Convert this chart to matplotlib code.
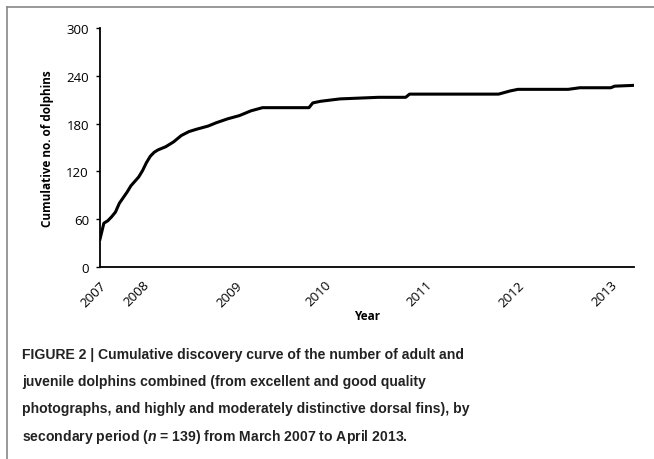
import matplotlib
matplotlib.use("Agg")
import matplotlib.pyplot as plt
from matplotlib.lines import Line2D

# secondary period index (0..138) and cumulative number of dolphins
periods = [0, 1, 2, 3, 4, 5, 7, 8, 10, 11, 12, 13, 14, 15, 17, 19, 21, 23, 25,
           28, 30, 33, 36, 39, 42, 54, 55, 57, 62, 67, 72, 79, 80, 103, 106,
           108, 121, 124, 132, 133, 138]
cumulative = [35, 55, 58, 63, 69, 80, 94, 102, 113, 121, 131, 139, 144, 147,
              151, 157, 165, 170, 173, 177, 181, 186, 190, 196, 200, 200, 206,
              208, 211, 212, 213, 213, 217, 217, 221, 223, 223, 225, 225, 227,
              228]

year_ticks = [0, 11, 35, 58, 84, 108, 132]
year_labels = ["2007", "2008", "2009", "2010", "2011", "2012", "2013"]

caption_lines = [
    "FIGURE 2 | Cumulative discovery curve of the number of adult and",
    "juvenile dolphins combined (from excellent and good quality",
    "photographs, and highly and moderately distinctive dorsal fins), by",
    "secondary period ($\\mathit{n}$ = 139) from March 2007 to April 2013.",
]
caption_y = [355, 382, 409, 437]

fig = plt.figure(figsize=(6.54, 4.60), dpi=100)
ax = fig.add_axes([100 / 654, 1 - 268 / 460, 534 / 654, 239 / 460])

ax.plot(periods, cumulative, color="black", linewidth=2.2, solid_joinstyle="round")

ax.set_xlim(0, 138)
ax.set_ylim(0, 300)
ax.set_yticks([0, 60, 120, 180, 240, 300])
ax.set_xticks(year_ticks)
ax.set_xticklabels(year_labels, rotation=45, ha="right", va="top",
                   rotation_mode="anchor", fontfamily="Open Sans", fontsize=9.5)
for lab in ax.get_yticklabels():
    lab.set_fontfamily("Open Sans")
    lab.set_fontsize(9.5)

for s in ["top", "right"]:
    ax.spines[s].set_visible(False)
for s in ["left", "bottom"]:
    ax.spines[s].set_linewidth(1.3)
ax.tick_params(axis="y", direction="out", length=3, width=1, pad=5)
ax.tick_params(axis="x", length=0, pad=8)

ax.set_ylabel("Cumulative no. of dolphins", fontfamily="Open Sans",
              fontweight="bold", fontsize=8.5, labelpad=9)
ax.set_xlabel("Year", fontfamily="Open Sans", fontweight="bold", fontsize=8.5,
              labelpad=0)

plt.rcParams["mathtext.fontset"] = "custom"
plt.rcParams["mathtext.it"] = "Liberation Sans:italic:bold"
for line, yy in zip(caption_lines, caption_y):
    fig.text(22 / 654, 1 - yy / 460, line, ha="left", va="center",
             fontfamily="Liberation Sans", fontweight="bold", fontsize=10.1,
             color="#222222")

# frame lines of the figure panel
fig.add_artist(Line2D([7 / 654, 7 / 654], [0, 1 - 8 / 460], color="#888888",
                      linewidth=1.2, transform=fig.transFigure))
fig.add_artist(Line2D([7 / 654, 1], [1 - 8 / 460, 1 - 8 / 460], color="#888888",
                      linewidth=1.2, transform=fig.transFigure))

fig.savefig("out.png", dpi=100)
